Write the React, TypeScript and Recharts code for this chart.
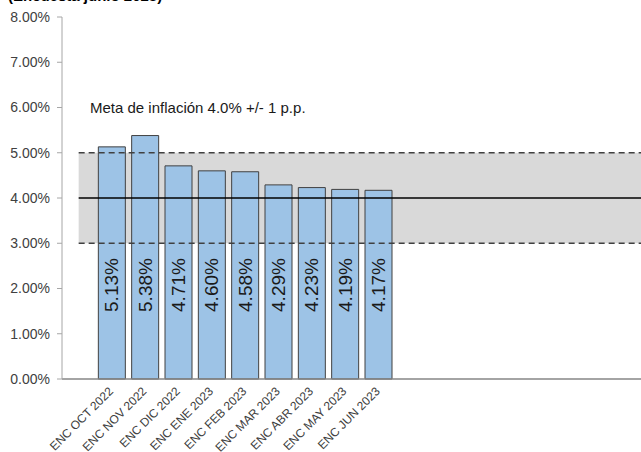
import { Area, Bar, ComposedChart, LabelList, Line, XAxis, YAxis } from 'recharts';

// encuestas (la primera y las ultimas categorias quedan vacias, como en el original)
const encuestas = [
  '',
  'ENC OCT 2022',
  'ENC NOV 2022',
  'ENC DIC 2022',
  'ENC ENE 2023',
  'ENC FEB 2023',
  'ENC MAR 2023',
  'ENC ABR 2023',
  'ENC MAY 2023',
  'ENC JUN 2023',
  '',
  '',
  '',
  '',
  '',
  '',
  '',
  '',
];
const expectativa = [null, 5.13, 5.38, 4.71, 4.6, 4.58, 4.29, 4.23, 4.19, 4.17, null, null, null, null, null, null, null, null];
const meta = 4.0;
const tolerancia = 1.0;
const yTicks = [0, 1, 2, 3, 4, 5, 6, 7, 8];

const data = encuestas.map((label, i) => ({
  label,
  valor: expectativa[i],
  rango: [meta - tolerancia, meta + tolerancia],
  techo: meta + tolerancia,
  piso: meta - tolerancia,
  meta,
}));

const FONT = '"Liberation Sans", Arial, sans-serif';

function XTick({ x, y, payload }: any) {
  if (!payload.value) return null;
  const ax = x + 2;
  const ay = y + 13;
  return (
    <text x={ax} y={ay} transform={`rotate(-45, ${ax}, ${ay})`} textAnchor="end" fontSize={12} fill="#404040" fontFamily={FONT}>
      {payload.value}
    </text>
  );
}

function BarValue({ x, y, width, height, value }: any) {
  if (value == null) return null;
  const cx = x + width / 2;
  const cy = y + height - 94;
  return (
    <text
      x={cx}
      y={cy}
      transform={`rotate(-90, ${cx}, ${cy})`}
      textAnchor="middle"
      dominantBaseline="central"
      fontSize={19}
      fill="#1a1a1a"
      fontFamily={FONT}
    >
      {Number(value).toFixed(2)}%
    </text>
  );
}

export default function App() {
  return (
    <div style={{ position: 'absolute', left: 0, top: 0, width: 641, height: 452, overflow: 'hidden', background: '#fff', fontFamily: FONT }}>
      <ComposedChart width={662} height={452} data={data} margin={{ top: 17, right: 0, left: 0, bottom: 0 }}>
        <XAxis
          dataKey="label"
          interval={0}
          tick={<XTick />}
          tickLine={false}
          tickSize={0}
          tickMargin={0}
          height={73}
          axisLine={{ stroke: '#868686', strokeWidth: 1.5 }}
        />
        <YAxis
          domain={[0, 8]}
          ticks={yTicks}
          interval={0}
          width={62}
          tickSize={5}
          tickMargin={7}
          tickFormatter={(v: number) => `${v.toFixed(2)}%`}
          tick={{ fill: '#404040', fontSize: 14, fontFamily: FONT }}
          axisLine={{ stroke: '#a6a6a6' }}
          tickLine={{ stroke: '#a6a6a6' }}
        />
        <Area dataKey="rango" type="linear" fill="#d9d9d9" fillOpacity={1} stroke="none" isAnimationActive={false} />
        <Bar dataKey="valor" barSize={27} fill="#9dc3e6" stroke="#404040" strokeWidth={1} isAnimationActive={false}>
          <LabelList dataKey="valor" content={<BarValue />} />
        </Bar>
        <Line dataKey="techo" type="linear" stroke="#404040" strokeWidth={1.5} strokeDasharray="6 4" dot={false} isAnimationActive={false} />
        <Line dataKey="piso" type="linear" stroke="#404040" strokeWidth={1.5} strokeDasharray="6 4" dot={false} isAnimationActive={false} />
        <Line dataKey="meta" type="linear" stroke="#000" strokeWidth={1.5} dot={false} isAnimationActive={false} />
      </ComposedChart>
      <svg width={641} height={452} style={{ position: 'absolute', left: 0, top: 0, pointerEvents: 'none' }}>
        {/* subtitulo: en el original solo asoma el borde inferior */}
        <text x={8} y={0.5} fontSize={15} fontWeight="bold" fill="#000" fontFamily={FONT}>
          (Encuesta junio 2023)
        </text>
        <text x={90} y={113} fontSize={15} fill="#1a1a1a" fontFamily={FONT}>
          Meta de inflación 4.0% +/- 1 p.p.
        </text>
      </svg>
    </div>
  );
}
